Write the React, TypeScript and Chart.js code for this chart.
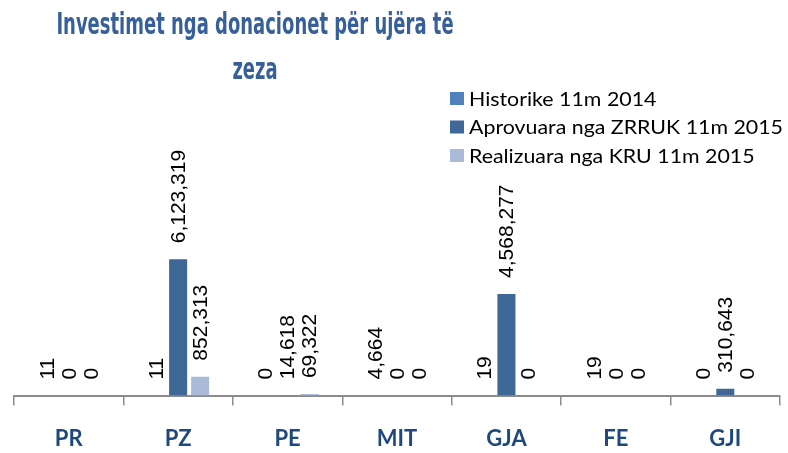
import React, { useEffect, useRef } from "react";
import { Chart, registerables } from "chart.js";

Chart.register(...registerables);

const categories = ["PR", "PZ", "PE", "MIT", "GJA", "FE", "GJI"];
const historike2014 = [11, 11, 0, 4664, 19, 19, 0];
const aprovuara2015 = [0, 6123319, 14618, 0, 4568277, 0, 310643];
const realizuara2015 = [0, 852313, 69322, 0, 0, 0, 0];
const seriesNames = [
  "Historike 11m 2014",
  "Aprovuara nga ZRRUK 11m 2015",
  "Realizuara nga KRU 11m 2015",
];
const seriesColors = ["#4F81BD", "#3F6798", "#AABBDA"];
const titleLines = ["Investimet nga donacionet për ujëra të", "zeza"];

const FONT = "Lato, 'Open Sans', sans-serif";
const TITLE_FONT = "'Liberation Sans Narrow', 'DejaVu Sans Condensed', Lato, sans-serif";
const LABEL_FONT = "'Liberation Sans', Arial, sans-serif";

const overlayPlugin = {
  id: "overlay",
  afterDatasetsDraw(chart: any) {
    const ctx = chart.ctx;
    ctx.save();
    ctx.fillStyle = "#000";
    ctx.font = `21px ${LABEL_FONT}`;
    ctx.textAlign = "left";
    ctx.textBaseline = "middle";
    chart.data.datasets.forEach((ds: any, di: number) => {
      const meta = chart.getDatasetMeta(di);
      meta.data.forEach((bar: any, i: number) => {
        const v = ds.data[i];
        const label = Number(v).toLocaleString("en-US");
        ctx.save();
        ctx.translate(bar.x, bar.y - 16);
        ctx.rotate(-Math.PI / 2);
        ctx.fillText(label, 0, 1);
        ctx.restore();
      });
    });
    ctx.restore();
  },
  afterDraw(chart: any) {
    const ctx = chart.ctx;
    // title
    ctx.save();
    ctx.fillStyle = "#37609A";
    ctx.textAlign = "center";
    ctx.textBaseline = "alphabetic";
    ctx.font = `bold 30px ${TITLE_FONT}`;
    const m = ctx.measureText(titleLines[0]);
    const inkW = (m.actualBoundingBoxLeft || 0) + (m.actualBoundingBoxRight || m.width);
    const sx = Math.max(0.5, Math.min(2, 395 / inkW));
    ctx.save();
    ctx.translate(255, 34);
    ctx.scale(sx, 1);
    ctx.fillText(titleLines[0], 0, 0);
    ctx.restore();
    ctx.save();
    ctx.translate(255, 79);
    ctx.scale(sx, 1);
    ctx.fillText(titleLines[1], 0, 0);
    ctx.restore();
    ctx.restore();
    // legend
    ctx.save();
    ctx.font = `19px ${FONT}`;
    ctx.textAlign = "left";
    ctx.textBaseline = "middle";
    const rows = [98.5, 127, 155.5];
    const lw = ctx.measureText(seriesNames[1]).width;
    const lsx = Math.max(0.8, Math.min(1.2, 314 / lw));
    seriesNames.forEach((name, i) => {
      ctx.fillStyle = seriesColors[i];
      ctx.fillRect(450, rows[i] - 6.5, 14, 13);
      ctx.fillStyle = "#000";
      ctx.save();
      ctx.translate(469, rows[i] + 1);
      ctx.scale(lsx, 1);
      ctx.fillText(name, 0, 0);
      ctx.restore();
    });
    ctx.restore();
  },
};

export default function App() {
  const ref = useRef<HTMLCanvasElement>(null);
  useEffect(() => {
    if (!ref.current) return;
    const datasets = [historike2014, aprovuara2015, realizuara2015].map(
      (d, i) => ({
        label: seriesNames[i],
        data: d,
        backgroundColor: seriesColors[i],
        borderWidth: 0,
        categoryPercentage: 0.603,
        barPercentage: 0.82,
      })
    );
    const chart = new Chart(ref.current, {
      type: "bar",
      data: { labels: categories, datasets },
      options: {
        animation: false,
        responsive: false,
        maintainAspectRatio: false,
        layout: { padding: { left: 14, right: 8, top: 100, bottom: -19 } },
        plugins: {
          legend: { display: false },
          title: { display: false },
          tooltip: { enabled: false },
        },
        scales: {
          x: {
            grid: {
              display: true,
              drawOnChartArea: false,
              drawTicks: true,
              tickLength: 10,
              color: "#8C8C8C",
              lineWidth: 1.5,
              offset: true,
            },
            border: { display: true, color: "#8C8C8C", width: 2 },
            ticks: {
              color: "#1F497D",
              font: { family: FONT, size: 22, weight: "bold" },
              padding: 20,
            },
          },
          y: {
            display: false,
            min: 0,
            max: 13280000,
          },
        },
      },
      plugins: [overlayPlugin],
    });
    return () => chart.destroy();
  }, []);
  return (
    <div style={{ position: "fixed", left: 0, top: 0, width: 788, height: 453, background: "#fff" }}>
      <canvas ref={ref} width={788} height={453} style={{ width: 788, height: 453 }} />
    </div>
  );
}
